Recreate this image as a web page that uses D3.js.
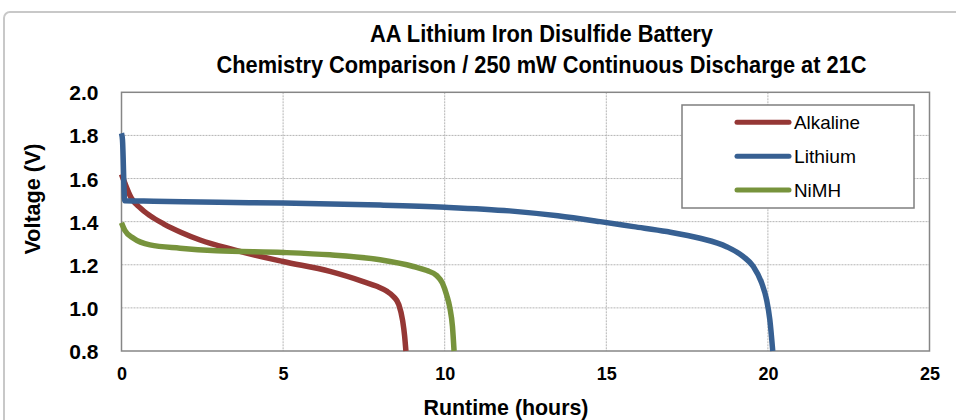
<!DOCTYPE html>
<html>
<head>
<meta charset="utf-8">
<script src="https://cdn.jsdelivr.net/npm/d3@7"></script>
<style>
  body { margin: 0; background: #fff; }
  text { font-family: "Liberation Sans", Arial, sans-serif; fill: #000; font-weight: bold; }
</style>
</head>
<body>
<svg id="chart"></svg>
<script>
// data (hours, volts)
const alkaline = [
  [0, 1.62], [0.1, 1.58], [0.3, 1.51], [0.57, 1.465], [0.88, 1.428], [1.3, 1.39],
  [1.85, 1.35], [2.43, 1.315], [3.46, 1.27], [5, 1.215], [6.45, 1.169], [7.48, 1.122],
  [7.9, 1.1], [8.2, 1.078], [8.42, 1.052], [8.58, 1.015], [8.7, 0.94], [8.76, 0.87], [8.8, 0.8]
];
const lithium = [
  [0, 1.81], [0.03, 1.78], [0.1, 1.497], [1, 1.495], [3, 1.49], [5, 1.486], [8, 1.477],
  [10, 1.467], [12, 1.45], [13.5, 1.427], [14.81, 1.40], [15.84, 1.377], [16.87, 1.354],
  [17.9, 1.323], [18.72, 1.284], [19.24, 1.238], [19.55, 1.192], [19.81, 1.115],
  [19.96, 1.037], [20.06, 0.945], [20.15, 0.8]
];
const nimh = [
  [0, 1.395], [0.1, 1.36], [0.37, 1.323], [0.88, 1.292], [1.81, 1.277], [2.95, 1.265],
  [5, 1.257], [6.45, 1.246], [8.0, 1.223], [9.03, 1.192], [9.45, 1.173], [9.75, 1.15],
  [9.93, 1.115], [10.06, 1.06], [10.16, 1.0], [10.24, 0.914], [10.29, 0.8]
];
const seriesNames = ["Alkaline", "Lithium", "NiMH"];
const seriesColors = ["#953735", "#376092", "#77933c"];
const xTicks = [0, 5, 10, 15, 20, 25];
const yTicks = [0.8, 1.0, 1.2, 1.4, 1.6, 1.8, 2.0];
const titleLines = ["AA Lithium Iron Disulfide Battery", "Chemistry Comparison / 250 mW Continuous Discharge at 21C"];

const W = 956, H = 420;
const margin = { left: 121.5, top: 92.3, right: 956 - 929.5, bottom: 420 - 351 };
const width = W - margin.left - margin.right;
const height = H - margin.top - margin.bottom;

const svg = d3.select("#chart").attr("width", W).attr("height", H);

// outer chart frame
svg.append("rect")
  .attr("x", 4).attr("y", 12).attr("width", 1000).attr("height", 500)
  .attr("rx", 6)
  .attr("fill", "#fff").attr("stroke", "#c8c8c8").attr("stroke-width", 2);

// title
const titleWidths = [343, 650];
svg.selectAll(".title")
  .data(titleLines)
  .enter()
  .append("text")
  .attr("class", "title")
  .attr("x", 541.5)
  .attr("y", (d, i) => 42 + i * 31)
  .attr("text-anchor", "middle")
  .attr("textLength", (d, i) => titleWidths[i])
  .attr("lengthAdjust", "spacingAndGlyphs")
  .style("font-size", "24px")
  .text((d) => d);

const g = svg.append("g")
  .attr("transform", "translate(" + margin.left + "," + margin.top + ")");

const x = d3.scaleLinear().domain([0, 25]).range([0, width]);
const y = d3.scaleLinear().domain([0.8, 2.0]).range([height, 0]);

// grid
g.append("g")
  .selectAll("line")
  .data(yTicks.slice(1, -1))
  .enter()
  .append("line")
  .attr("x1", 0).attr("x2", width)
  .attr("y1", (d) => y(d)).attr("y2", (d) => y(d))
  .attr("stroke", "#b4b4b4").attr("stroke-width", 1).attr("stroke-dasharray", "2,1");
g.append("g")
  .selectAll("line")
  .data(xTicks.slice(1, -1))
  .enter()
  .append("line")
  .attr("y1", 0).attr("y2", height)
  .attr("x1", (d) => x(d)).attr("x2", (d) => x(d))
  .attr("stroke", "#b4b4b4").attr("stroke-width", 1).attr("stroke-dasharray", "2,1");

// plot border
g.append("rect")
  .attr("width", width).attr("height", height)
  .attr("fill", "none").attr("stroke", "#868686").attr("stroke-width", 1.5);

// axes
const xAxis = d3.axisBottom(x).tickValues(xTicks).tickSize(0).tickPadding(16).tickFormat(d3.format("d"));
const yAxis = d3.axisLeft(y).tickValues(yTicks).tickSize(0).tickPadding(23).tickFormat(d3.format(".1f"));

g.append("g")
  .attr("class", "xaxis")
  .attr("transform", "translate(0," + height + ")")
  .call(xAxis)
  .call((s) => s.select(".domain").remove())
  .selectAll("text")
  .style("font-size", "18px")
  .attr("font-family", null);
g.append("g")
  .attr("class", "yaxis")
  .call(yAxis)
  .call((s) => s.select(".domain").remove())
  .selectAll("text")
  .style("font-size", "21px")
  .attr("dy", "0.36em")
  .attr("font-family", null);

// axis titles
svg.append("text")
  .attr("transform", "translate(40,199) rotate(-90)")
  .attr("text-anchor", "middle")
  .attr("textLength", 111)
  .attr("lengthAdjust", "spacingAndGlyphs")
  .style("font-size", "21.5px")
  .text("Voltage (V)");
svg.append("text")
  .attr("x", 506)
  .attr("y", 415)
  .attr("text-anchor", "middle")
  .attr("textLength", 165)
  .attr("lengthAdjust", "spacingAndGlyphs")
  .style("font-size", "21.5px")
  .text("Runtime (hours)");

// lines
const line = d3.line()
  .x((d) => x(d[0]))
  .y((d) => y(d[1]))
  .curve(d3.curveMonotoneX);

const allSeries = [alkaline, lithium, nimh];
g.selectAll(".series")
  .data(allSeries)
  .enter()
  .append("path")
  .attr("class", "series")
  .attr("d", line)
  .attr("fill", "none")
  .attr("stroke", (d, i) => seriesColors[i])
  .attr("stroke-width", 5.5)
  .attr("stroke-linejoin", "round");

// legend
const legend = svg.append("g").attr("transform", "translate(682,105)");
legend.append("rect")
  .attr("width", 232).attr("height", 103)
  .attr("fill", "#fff").attr("stroke", "#7f7f7f").attr("stroke-width", 1.5);
const items = legend.selectAll(".item")
  .data(seriesNames)
  .enter()
  .append("g")
  .attr("transform", (d, i) => "translate(0," + (17.3 + i * 33.9) + ")");
items.append("line")
  .attr("x1", 55).attr("x2", 107)
  .attr("stroke", (d, i) => seriesColors[i])
  .attr("stroke-width", 5).attr("stroke-linecap", "round");
items.append("text")
  .attr("x", 112).attr("y", 7)
  .attr("textLength", (d) => ({ Alkaline: 66, Lithium: 62, NiMH: 47 })[d])
  .attr("lengthAdjust", "spacingAndGlyphs")
  .style("font-size", "18.5px")
  .style("font-weight", "normal")
  .text((d) => d);
</script>
</body>
</html>
